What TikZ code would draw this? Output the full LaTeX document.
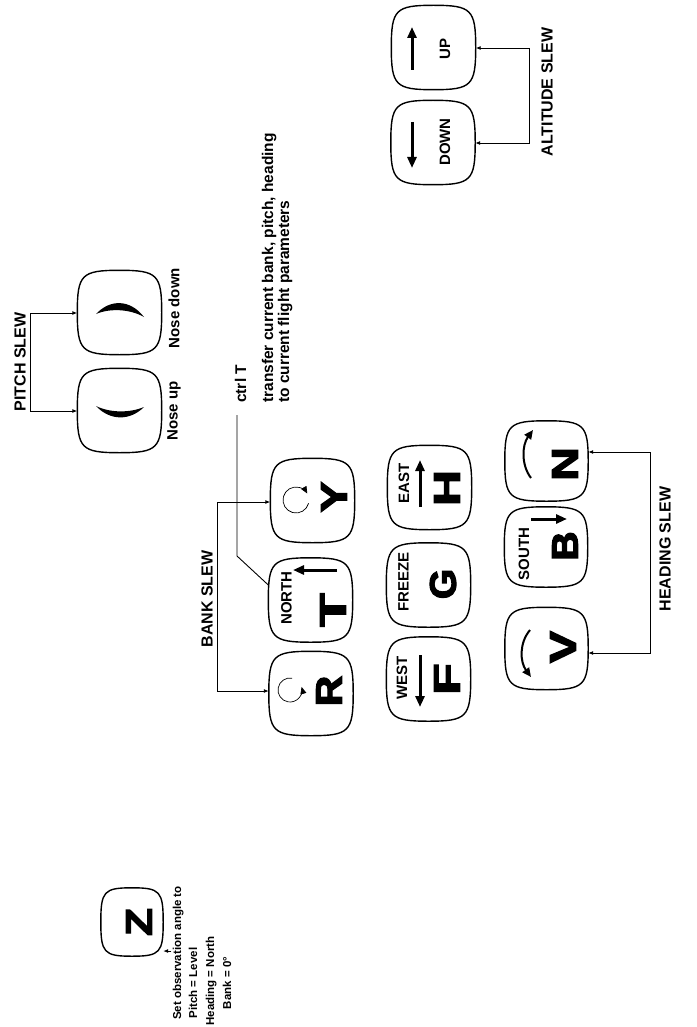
\documentclass[tikz,border=0pt]{standalone}
\usepackage{fontspec}
\usepackage{graphicx}
\setmainfont{Liberation Sans}
\newfontfamily\heavyfont{Liberation Sans}[FakeBold=3]
\usetikzlibrary{arrows.meta,calc}
\tikzset{
  keybox/.style={minimum width=84pt,minimum height=84pt,inner sep=0pt},
  keyline/.style={line width=1.4pt},
  bigletter/.style={rotate=90,inner sep=0pt,font=\heavyfont\bfseries\fontsize{37}{37}\selectfont},
  keylabel/.style={rotate=90,inner sep=0pt,font=\bfseries\fontsize{15}{15}\selectfont},
  slewlabel/.style={rotate=90,inner sep=0pt,font=\bfseries\fontsize{16}{16}\selectfont},
  notetext/.style={rotate=90,inner sep=0pt,font=\bfseries\fontsize{15.5}{18}\selectfont},
  smalltext/.style={rotate=90,inner sep=0pt,font=\bfseries\fontsize{11.5}{14}\selectfont},
  conn/.style={line width=0.9pt},
  conntip/.style={-{Latex[length=5pt,width=4pt]}},
  dirarrow/.style={line width=3pt,-{Triangle[length=11pt,width=9pt]}},
  curvarrow/.style={line width=2pt,-{Triangle[length=9pt,width=8pt]}},
  circarrow/.style={line width=0.7pt,-{Triangle[length=7pt,width=6pt]}},
}
\begin{document}
\begin{tikzpicture}[x=1pt,y=-1pt]
\useasboundingbox (0,0) rectangle (696,1027);
% keys
\node[keybox] (UP) at (433.5,47.5) {};
\node[keybox] (DOWN) at (433,142.5) {};
\node[keybox] (ND) at (119.5,312.5) {};
\node[keybox] (NU) at (119.5,410.5) {};
\node[keybox] (Y) at (312.5,500.5) {};
\node[keybox] (T) at (310.5,600) {};
\node[keybox] (R) at (311,693.5) {};
\node[keybox] (H) at (429.5,487.5) {};
\node[keybox] (G) at (428.5,585) {};
\node[keybox] (F) at (428.5,679) {};
\node[keybox,minimum width=83pt,minimum height=80pt] (N) at (546.5,461) {};
\node[keybox,minimum width=83pt,minimum height=80pt] (B) at (546,547) {};
\node[keybox,minimum width=83pt,minimum height=82pt] (V) at (546.5,648.5) {};
\node[keybox,minimum width=62pt,minimum height=68pt] (Z) at (132,922) {};
\foreach \k in {UP,DOWN,ND,NU,Y,T,R,H,G,F,N,B,V,Z}{
  \draw[keyline] (\k.north)
   .. controls ($(\k.north)!0.9!(\k.north east)$) and ($(\k.east)!0.9!(\k.north east)$) .. (\k.east)
   .. controls ($(\k.east)!0.9!(\k.south east)$) and ($(\k.south)!0.9!(\k.south east)$) .. (\k.south)
   .. controls ($(\k.south)!0.9!(\k.south west)$) and ($(\k.west)!0.9!(\k.south west)$) .. (\k.west)
   .. controls ($(\k.west)!0.9!(\k.north west)$) and ($(\k.north)!0.9!(\k.north west)$) .. (\k.north) -- cycle;
}
% big letters
\node[bigletter] (Yl) at (334,497) {\scalebox{1.25}[1]{Y}};
\node[bigletter] (Tl) at (333,610) {\scalebox{1.5}[1]{T}};
\node[bigletter] (Rl) at (329,691) {\scalebox{1.15}[1]{R}};
\node[bigletter] (Hl) at (447,488) {\scalebox{1.35}[1]{H}};
\node[bigletter] (Gl) at (443,584) {\scalebox{1.05}[1]{G}};
\node[bigletter] (Fl) at (447,679) {\scalebox{1.4}[1]{F}};
\node[bigletter] (Nl) at (565,464) {\scalebox{1.25}[1]{N}};
\node[bigletter] (Bl) at (565,546) {\scalebox{1.1}[1]{B}};
\node[bigletter] (Vl) at (563,647) {\scalebox{1.3}[1]{V}};
\node[bigletter] (Zl) at (139,922) {\scalebox{1.25}[1]{Z}};
% key labels
\node[keylabel] (northl) at (286.5,598) {NORTH};
\node[keylabel] (eastl) at (404,483) {EAST};
\node[keylabel] (freezel) at (403.5,582) {FREEZE};
\node[keylabel] (westl) at (402,678) {WEST};
\node[keylabel] (southl) at (524,554) {SOUTH};
\node[keylabel] (upl) at (445,49) {UP};
\node[keylabel] (downl) at (445,142) {DOWN};
% direction arrows
\draw[dirarrow] (337,570) -- (293,570);
\draw[dirarrow] (420,507) -- (420,460);
\draw[dirarrow] (420,655) -- (420,707);
\draw[dirarrow] (531,519) -- (567,519);
\draw[dirarrow] (412,70) -- (412,27);
\draw[dirarrow] (412,122) -- (412,168);
% curved arrows
\draw[curvarrow] (531,478) .. controls (521,465) and (522,445) .. (533,430);
\draw[curvarrow] (530,630) .. controls (519,643) and (520,662) .. (531,677);
% circular arrows
\draw[circarrow] (290,690) ++(-80:12) arc[start angle=-80,end angle=-375,radius=12];
\draw[circarrow] (296,500) ++(15:13) arc[start angle=15,end angle=330,radius=13];
% pitch glyphs
\fill (96,314) .. controls (110,299) and (130,299) .. (144,317) .. controls (130,309) and (110,308) .. (96,314) -- cycle;
\fill (96,406) .. controls (110,421) and (130,421) .. (144,407) .. controls (130,413) and (110,413) .. (96,406) -- cycle;
\node[keylabel] (ndl) at (174,308) {Nose down};
\node[keylabel] (nul) at (174,411) {Nose up};
% slew brackets
\coordinate (p1) at (30,313);
\coordinate (p2) at (30,411);
\draw[conn,conntip] (p1) -- (p1 -| ND.west);
\draw[conn,conntip] (p1) -- (p2) -- (p2 -| NU.west);
\node[slewlabel] (pitchl) at (20,362) {PITCH SLEW};
\coordinate (a1) at (529,48);
\coordinate (a2) at (529,143);
\draw[conn,conntip] (a1) -- (a1 -| UP.east);
\draw[conn,conntip] (a1) -- (a2) -- (a2 -| DOWN.east);
\node[slewlabel] (altl) at (547,92) {ALTITUDE SLEW};
\coordinate (h1) at (650,452);
\coordinate (h2) at (650,653);
\draw[conn,conntip] (h1) -- (h1 -| N.east);
\draw[conn,conntip] (h1) -- (h2) -- (h2 -| V.east);
\node[slewlabel] (headl) at (665,549) {HEADING SLEW};
\coordinate (b1) at (217,502);
\coordinate (b2) at (217,691);
\draw[conn,conntip] (b1) -- (b1 -| Y.west);
\draw[conn,conntip] (b1) -- (b2) -- (b2 -| R.west);
\node[slewlabel] (bankl) at (207,599) {BANK SLEW};
% ctrl T
\node[notetext,anchor=base west] (ctrl) at (246,403) {ctrl T};
\node[notetext,anchor=base west] (desc1) at (273,403) {transfer current bank, pitch, heading};
\node[notetext,anchor=base west] (desc2) at (289,403) {to current flight parameters};
\coordinate (c0) at (237,415);
\coordinate (c1) at (237,556);
\draw[conn] (c0) -- (c1) -- ($(T.west)+(0,-15)$);
% Z
\node[smalltext,anchor=base west] (zt) at (181,1020) {Set observation angle to};
\node[smalltext,anchor=base] (zt2) at (197,983) {Pitch = Level};
\node[smalltext,anchor=base] (zt3) at (214,981) {Heading = North};
\node[smalltext,anchor=base] (zt4) at (231,983) {Bank = 0\textdegree};
\coordinate (zs) at ($(zt.north)+(-1,-2)$);
\draw[conn,conntip] (zs) -- (zs -| Z.east);
\end{tikzpicture}
\end{document}
